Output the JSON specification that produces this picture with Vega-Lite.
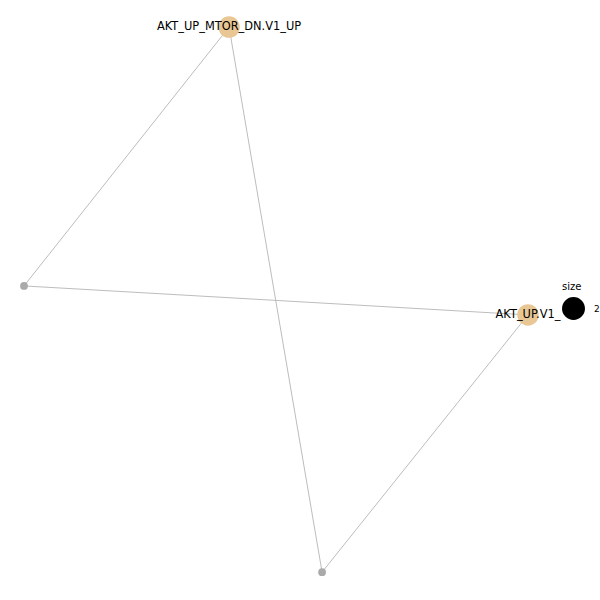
{
  "$schema": "https://vega.github.io/schema/vega-lite/v6.json",
  "width": 600,
  "height": 600,
  "autosize": {"type": "fit", "contains": "padding"},
  "padding": 0,
  "background": "white",
  "config": {"view": {"stroke": null}, "legend": {"symbolBaseFillColor": "black", "symbolBaseStrokeColor": "black"}},
  "datasets": {
    "nodes": [
      {"name": "AKT_UP_MTOR_DN.V1_UP", "x": -0.257, "y": 0.989, "size": 2, "kind": "geneset"},
      {"name": "AKT_UP.V1_", "x": 0.826, "y": -0.054, "size": 2, "kind": "geneset"},
      {"name": "gene_a", "x": -1.0, "y": 0.051, "size": null, "kind": "gene"},
      {"name": "gene_b", "x": 0.08, "y": -0.986, "size": null, "kind": "gene"}
    ],
    "edges": [
      {"x": -0.257, "y": 0.989, "x2": -1.0, "y2": 0.051},
      {"x": -0.257, "y": 0.989, "x2": 0.08, "y2": -0.986},
      {"x": -1.0, "y": 0.051, "x2": 0.826, "y2": -0.054},
      {"x": 0.826, "y": -0.054, "x2": 0.08, "y2": -0.986}
    ]
  },
  "layer": [
    {
      "data": {"name": "edges"},
      "mark": {"type": "rule", "color": "#bdbdbd", "strokeWidth": 1},
      "encoding": {
        "x": {"field": "x", "type": "quantitative", "scale": {"domain": [-1.087, 1.087], "nice": false, "zero": false}, "axis": null},
        "y": {"field": "y", "type": "quantitative", "scale": {"domain": [-1.087, 1.087], "nice": false, "zero": false}, "axis": null},
        "x2": {"field": "x2"},
        "y2": {"field": "y2"}
      }
    },
    {
      "data": {"name": "nodes"},
      "transform": [{"filter": "datum.kind === 'gene'"}],
      "mark": {"type": "circle", "color": "#aaaaaa", "opacity": 1, "size": 60},
      "encoding": {
        "x": {"field": "x", "type": "quantitative"},
        "y": {"field": "y", "type": "quantitative"}
      }
    },
    {
      "data": {"name": "nodes"},
      "transform": [{"filter": "datum.kind === 'geneset'"}],
      "mark": {"type": "circle", "opacity": 1},
      "encoding": {
        "x": {"field": "x", "type": "quantitative"},
        "y": {"field": "y", "type": "quantitative"},
        "color": {"field": "kind", "type": "nominal", "scale": {"domain": ["geneset"], "range": ["#e8c795"]}, "legend": null},
        "size": {
          "field": "size",
          "type": "ordinal",
          "scale": {"range": [460, 460]},
          "legend": {
            "title": "size",
            "orient": "none",
            "legendX": 562,
            "legendY": 282,
            "titleFontWeight": "normal",
            "titleFont": "DejaVu Sans",
            "titleFontSize": 10,
            "titleColor": "black",
            "labelFont": "DejaVu Sans",
            "labelFontSize": 9,
            "labelColor": "black",
            "symbolType": "circle",
            "symbolFillColor": "black",
            "symbolStrokeColor": "black",
            "symbolOpacity": 1,
            "labelOffset": 9
          }
        }
      }
    },
    {
      "data": {"name": "nodes"},
      "transform": [{"filter": "datum.kind === 'geneset'"}],
      "mark": {"type": "text", "font": "DejaVu Sans", "fontSize": 11.4, "color": "black", "align": "center", "baseline": "middle"},
      "encoding": {
        "x": {"field": "x", "type": "quantitative"},
        "y": {"field": "y", "type": "quantitative"},
        "text": {"field": "name"}
      }
    }
  ]
}
